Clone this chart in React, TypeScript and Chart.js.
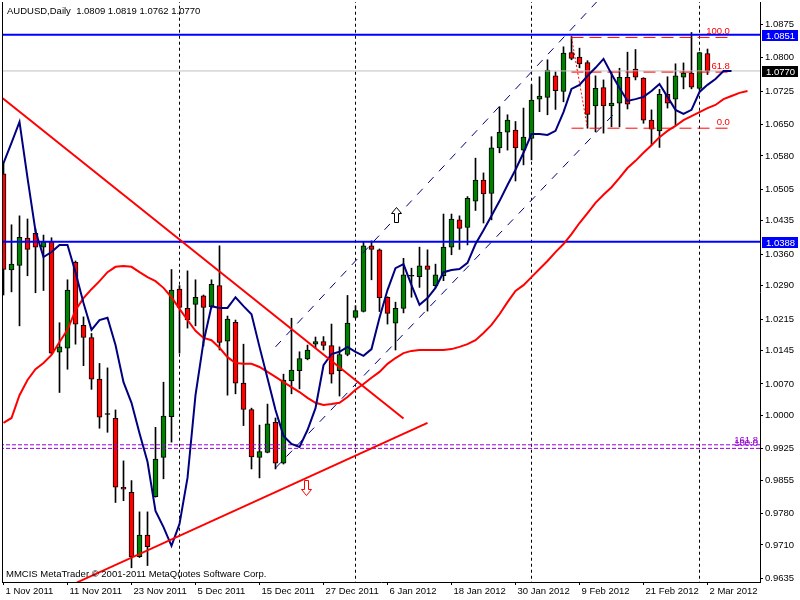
import React, { useEffect, useRef } from "react";
import { Chart, registerables } from "chart.js";

Chart.register(...registerables);

const FONT_FAMILY = '"Liberation Sans", Arial, sans-serif';
const FONT_SIZE = 9.5;

// ---------- DATA ----------
const symbolName = "AUDUSD";
const periodName = "Daily";
const copyrightText = "MMCIS MetaTrader \u00A9 2001-2011 MetaQuotes Software Corp.";

const xTickBars = [0, 8, 16, 24, 32, 40, 48, 56, 64, 72, 80, 88];
const xTickLabels = [
  "1 Nov 2011", "11 Nov 2011", "23 Nov 2011", "5 Dec 2011", "15 Dec 2011", "27 Dec 2011",
  "6 Jan 2012", "18 Jan 2012", "30 Jan 2012", "9 Feb 2012", "21 Feb 2012", "2 Mar 2012",
];
const yTickValues = [
  1.0875, 1.08, 1.0725, 1.065, 1.058, 1.0505, 1.0435, 1.036, 1.029, 1.0215,
  1.0145, 1.007, 1.0, 0.9925, 0.9855, 0.978, 0.971, 0.9635,
];

const opens = [
  1.0540, 1.0325, 1.0335, 1.0396, 1.0407, 1.0376, 1.0388, 1.0141, 1.0150, 1.0342,
  1.0201, 1.0174, 1.0081, 1.0004, 0.9993, 0.9839, 0.9828, 0.9684, 0.9732, 0.9818,
  0.9906, 0.9997, 1.0282, 1.0239, 1.0248, 1.0267, 1.0243, 1.0290, 1.0166, 1.0208,
  1.0072, 1.0013, 0.9906, 0.9917, 0.9984, 0.9893, 1.0077, 1.0100, 1.0126, 1.0159,
  1.0165, 1.0156, 1.0100, 1.0136, 1.0219, 1.0232, 1.0379, 1.0370, 1.0264, 1.0206,
  1.0239, 1.0313, 1.0310, 1.0334, 1.0290, 1.0312, 1.0376, 1.0437, 1.0420, 1.0479,
  1.0526, 1.0496, 1.0598, 1.0633, 1.0638, 1.0593, 1.0619, 1.0707, 1.0711, 1.0759,
  1.0724, 1.0811, 1.0801, 1.0789, 1.0692, 1.0733, 1.0692, 1.0698, 1.0756, 1.0774,
  1.0754, 1.0660, 1.0636, 1.0718, 1.0707, 1.0756, 1.0765, 1.0731, 1.0809,
];
const highs = [
  1.0564, 1.0426, 1.0446, 1.0439, 1.0417, 1.0403, 1.0397, 1.0207, 1.0303, 1.0345,
  1.0220, 1.0183, 1.0116, 1.0106, 1.0012, 0.9898, 0.9854, 0.9784, 0.9784, 0.9973,
  1.0074, 1.0326, 1.0290, 1.0323, 1.0303, 1.0269, 1.0303, 1.0379, 1.0222, 1.0213,
  1.0159, 1.0016, 0.9978, 1.0025, 0.9994, 1.0092, 1.0217, 1.0142, 1.0157, 1.0175,
  1.0176, 1.0204, 1.0153, 1.0268, 1.0245, 1.0388, 1.0390, 1.0372, 1.0265, 1.0253,
  1.0351, 1.0329, 1.0376, 1.0370, 1.0338, 1.0450, 1.0450, 1.0446, 1.0489, 1.0575,
  1.0542, 1.0623, 1.0690, 1.0672, 1.0657, 1.0687, 1.0739, 1.0757, 1.0795, 1.0768,
  1.0824, 1.0847, 1.0821, 1.0793, 1.0759, 1.0750, 1.0768, 1.0776, 1.0812, 1.0818,
  1.0755, 1.0683, 1.0729, 1.0757, 1.0786, 1.0788, 1.0856, 1.0812, 1.0819,
];
const lows = [
  1.0269, 1.0276, 1.0200, 1.0312, 1.0274, 1.0279, 1.0137, 1.0051, 1.0103, 1.0159,
  1.0111, 1.0058, 0.9971, 0.9962, 0.9805, 0.9809, 0.9659, 0.9682, 0.9664, 0.9817,
  0.9858, 0.9940, 1.0139, 1.0195, 1.0200, 1.0155, 1.0240, 1.0146, 1.0045, 1.0048,
  0.9977, 0.9880, 0.9860, 0.9916, 0.9880, 0.9891, 1.0048, 1.0059, 1.0124, 1.0151,
  1.0146, 1.0072, 1.0043, 1.0133, 1.0217, 1.0231, 1.0303, 1.0232, 1.0204, 1.0146,
  1.0229, 1.0264, 1.0286, 1.0233, 1.0286, 1.0301, 1.0359, 1.0371, 1.0381, 1.0458,
  1.0430, 1.0437, 1.0587, 1.0593, 1.0524, 1.0560, 1.0571, 1.0679, 1.0672, 1.0684,
  1.0701, 1.0795, 1.0777, 1.0642, 1.0634, 1.0631, 1.0645, 1.0645, 1.0685, 1.0750,
  1.0653, 1.0604, 1.0599, 1.0687, 1.0649, 1.0730, 1.0730, 1.0727, 1.0762,
];
const closes = [
  1.0326, 1.0338, 1.0398, 1.0371, 1.0376, 1.0388, 1.0139, 1.0153, 1.0280, 1.0204,
  1.0174, 1.0081, 0.9996, 1.0002, 0.9839, 0.9835, 0.9684, 0.9732, 0.9706, 0.9902,
  0.9998, 1.0280, 1.0241, 1.0213, 1.0264, 1.0241, 1.0293, 1.0163, 1.0215, 1.0072,
  1.0013, 0.9907, 0.9919, 0.9981, 0.9893, 1.0079, 1.0101, 1.0127, 1.0146, 1.0165,
  1.0156, 1.0092, 1.0136, 1.0206, 1.0234, 1.0379, 1.0371, 1.0263, 1.0228, 1.0239,
  1.0314, 1.0311, 1.0334, 1.0326, 1.0314, 1.0376, 1.0439, 1.0418, 1.0485, 1.0526,
  1.0495, 1.0598, 1.0633, 1.0660, 1.0598, 1.0622, 1.0705, 1.0714, 1.0772, 1.0726,
  1.0810, 1.0798, 1.0786, 1.0673, 1.0731, 1.0692, 1.0698, 1.0756, 1.0696, 1.0756,
  1.0660, 1.0640, 1.0718, 1.0698, 1.0759, 1.0765, 1.0734, 1.0811, 1.0770,
];

// shifted moving averages as drawn (one value per bar position)
const fastMA = [
  1.0564, 1.0609, 1.0656, 1.0531, 1.0412, 1.0354, 1.0365, 1.0381, 1.0381, 1.0320,
  1.0251, 1.0191, 1.0213, 1.0218, 1.0157, 1.0074, 1.0028, 0.9960, 0.9896, 0.9786,
  0.9750, 0.9708, 0.9757, 0.9860, 1.0045, 1.0164, 1.0244, 1.0240, 1.0240, 1.0264,
  1.0244, 1.0226, 1.0153, 1.0083, 1.0012, 0.9954, 0.9936, 0.9929, 0.9967, 1.0016,
  1.0112, 1.0137, 1.0142, 1.0153, 1.0142, 1.0133, 1.0148, 1.0218, 1.0280, 1.0329,
  1.0338, 1.0291, 1.0247, 1.0262, 1.0285, 1.0320, 1.0325, 1.0327, 1.0341, 1.0383,
  1.0414, 1.0446, 1.0479, 1.0515, 1.0549, 1.0587, 1.0629, 1.0629, 1.0627, 1.0636,
  1.0678, 1.0730, 1.0739, 1.0759, 1.0777, 1.0797, 1.0763, 1.0732, 1.0703, 1.0707,
  1.0712, 1.0725, 1.0741, 1.0712, 1.0683, 1.0674, 1.0683, 1.0723, 1.0739, 1.0752,
  1.0770, 1.0770,
];
const slowMA = [
  0.9983, 0.9994, 1.0045, 1.0079, 1.0103, 1.0117, 1.0135, 1.0164, 1.0191, 1.0235,
  1.0262, 1.0282, 1.0300, 1.0320, 1.0332, 1.0334, 1.0332, 1.0320, 1.0309, 1.0300,
  1.0285, 1.0264, 1.0238, 1.0213, 1.0189, 1.0173, 1.0168, 1.0151, 1.0130, 1.0117,
  1.0115, 1.0115, 1.0108, 1.0097, 1.0086, 1.0074, 1.0063, 1.0052, 1.0039, 1.0028,
  1.0023, 1.0025, 1.0028, 1.0041, 1.0057, 1.0070, 1.0084, 1.0097, 1.0115, 1.0128,
  1.0139, 1.0144, 1.0146, 1.0146, 1.0146, 1.0146, 1.0148, 1.0153, 1.0159, 1.0168,
  1.0184, 1.0202, 1.0226, 1.0253, 1.0278, 1.0291, 1.0309, 1.0327, 1.0345, 1.0365,
  1.0383, 1.0405, 1.0430, 1.0452, 1.0475, 1.0493, 1.0510, 1.0531, 1.0553, 1.0569,
  1.0587, 1.0604, 1.0622, 1.0636, 1.0647, 1.0660, 1.0669, 1.0678, 1.0687, 1.0694,
  1.0707, 1.0714, 1.0721, 1.0725,
];

const monthSeparatorBars = [22, 44, 66, 87];
const blueLevels = [1.0851, 1.0388];
const bidPrice = 1.077;

const downTrendBars = [-0.1, 50];
const downTrendPrices = [1.0709, 0.9993];
const upTrendBars = [9.15, 53];
const upTrendPrices = [0.9626, 0.9983];

const channelUpperBars = [34, 76];
const channelUpperPrices = [1.0153, 1.096];
const channelLowerBars = [34, 76.2];
const channelLowerPrices = [0.9882, 1.0672];

const fiboBars = [71, 73];
const fiboEndBar = 90.8;
const fiboHigh = 1.0845;
const fiboLow = 1.0642;
const fiboLevels = [100.0, 61.8, 0.0];

const expansionPrices = [0.9934, 0.9926];
const expansionLabels = ["161.8", "100.0"];

const arrowBars = [49, 37.75];
const arrowPrices = [1.0466, 0.9855];
const arrowDirections = ["up", "down"];

// ---------- SCALE RANGE ----------
const X_MIN = -0.1875;
const X_MAX = 94.5625;
const Y_MIN = 0.96272;
const Y_MAX = 1.09242;

const overlayPlugin = {
  id: "mtOverlay",
  beforeDraw(chart: any) {
    const ctx = chart.ctx;
    ctx.save();
    ctx.fillStyle = "#ffffff";
    ctx.fillRect(0, 0, chart.width, chart.height);
    ctx.restore();
  },
  afterDraw(chart: any) {
    const { ctx, chartArea: a, scales } = chart;
    const xs = scales.x;
    const ys = scales.y;
    ctx.save();
    // left frame line
    ctx.strokeStyle = "#000";
    ctx.lineWidth = 1;
    ctx.beginPath();
    ctx.moveTo(a.left + 0.5, a.top);
    ctx.lineTo(a.left + 0.5, a.bottom);
    ctx.stroke();

    ctx.font = `${FONT_SIZE}px ${FONT_FAMILY}`;
    ctx.textBaseline = "alphabetic";
    ctx.textAlign = "left";
    ctx.fillStyle = "#000";
    const last = opens.length - 1;
    ctx.fillText(
      `${symbolName},${periodName}  ${opens[last].toFixed(4)} ${highs[last].toFixed(4)} ${lows[last].toFixed(4)} ${closes[last].toFixed(4)}`,
      a.left + 5,
      a.top + 12
    );
    ctx.fillText(copyrightText, a.left + 4, a.bottom - 5);

    // fibo labels
    ctx.fillStyle = "#FF0000";
    ctx.textAlign = "right";
    const fx = xs.getPixelForValue(fiboEndBar);
    fiboLevels.forEach((lv) => {
      const p = fiboLow + ((fiboHigh - fiboLow) * lv) / 100;
      ctx.fillText(lv.toFixed(1), fx, ys.getPixelForValue(p) - 3);
    });

    // expansion labels
    ctx.fillStyle = "#9400D3";
    expansionPrices.forEach((p, i) => {
      ctx.fillText(expansionLabels[i], a.right - 2, ys.getPixelForValue(p) - 2);
    });

    // price markers
    const markers = [
      { p: blueLevels[0], bg: "#0000FF" },
      { p: blueLevels[1], bg: "#0000FF" },
      { p: bidPrice, bg: "#000000" },
    ];
    ctx.textAlign = "left";
    ctx.textBaseline = "middle";
    markers.forEach((m) => {
      const y = Math.round(ys.getPixelForValue(m.p));
      ctx.fillStyle = m.bg;
      ctx.fillRect(a.right + 2, y - 5, 36, 11);
      ctx.fillStyle = "#ffffff";
      ctx.fillText(m.p.toFixed(4), a.right + 6, y + 1);
    });

    // arrows
    arrowBars.forEach((b, i) => {
      const cx = Math.round(xs.getPixelForValue(b)) + 0.5;
      const ty = Math.round(ys.getPixelForValue(arrowPrices[i])) + 0.5;
      const up = arrowDirections[i] === "up";
      const s = up ? 1 : -1;
      const tipY = up ? ty : ty + 15;
      ctx.beginPath();
      ctx.moveTo(cx, tipY);
      ctx.lineTo(cx + 5, tipY + s * 6);
      ctx.lineTo(cx + 2, tipY + s * 6);
      ctx.lineTo(cx + 2, tipY + s * 15);
      ctx.lineTo(cx - 2, tipY + s * 15);
      ctx.lineTo(cx - 2, tipY + s * 6);
      ctx.lineTo(cx - 5, tipY + s * 6);
      ctx.closePath();
      ctx.fillStyle = "#ffffff";
      ctx.fill();
      ctx.strokeStyle = up ? "#000000" : "#FF0000";
      ctx.lineWidth = 1;
      ctx.stroke();
    });
    ctx.restore();
  },
};

export default function App() {
  const ref = useRef<HTMLCanvasElement>(null);

  useEffect(() => {
    const canvas = ref.current;
    if (!canvas) return;
    const bars = opens.map((_, i) => i);
    const bodyColors = bars.map((i) => {
      const d = closes[i] - opens[i];
      if (Math.abs(d) <= 0.00025) return "#000000";
      return d > 0 ? "#008000" : "#FF0000";
    });
    const seg = (xsArr: number[], ysArr: number[]) => xsArr.map((x, i) => ({ x, y: ysArr[i] }));
    const hline = (p: number) => [
      { x: X_MIN - 1, y: p },
      { x: X_MAX + 1, y: p },
    ];
    const vline = (b: number) => [
      { x: b, y: Y_MIN - 0.01 },
      { x: b, y: Y_MAX + 0.01 },
    ];
    const lineDs = (data: any[], color: string, width: number, dash: number[], order: number) => ({
      type: "line",
      data,
      borderColor: color,
      borderWidth: width,
      borderDash: dash,
      pointRadius: 0,
      fill: false,
      tension: 0,
      clip: 0,
      order,
    });

    const fiboLevelData = fiboLevels.map((lv) => {
      const p = fiboLow + ((fiboHigh - fiboLow) * lv) / 100;
      return [
        { x: fiboBars[0], y: p },
        { x: fiboEndBar, y: p },
      ];
    });

    const datasets: any[] = [
      ...monthSeparatorBars.map((b) => lineDs(vline(b), "#000000", 1, [3, 3], 20)),
      {
        type: "bar",
        data: bars.map((i) => ({ x: i, y: [lows[i], highs[i]] })),
        backgroundColor: "#000000",
        borderWidth: 0,
        barThickness: 1,
        grouped: false,
        order: 12,
      },
      {
        type: "bar",
        data: bars.map((i) => ({ x: i, y: [opens[i], closes[i]] })),
        backgroundColor: bodyColors,
        borderColor: "#000000",
        borderWidth: 1,
        borderSkipped: false,
        barThickness: 5,
        grouped: false,
        order: 11,
      },
      lineDs(hline(bidPrice), "#C0C0C0", 1, [], 10),
      ...expansionPrices.map((p) => lineDs(hline(p), "#9400D3", 1, [4, 2], 9)),
      ...blueLevels.map((p) => lineDs(hline(p), "#0000FF", 2, [], 8)),
      lineDs(seg(channelUpperBars, channelUpperPrices), "#000080", 1, [8, 8], 7),
      lineDs(seg(channelLowerBars, channelLowerPrices), "#000080", 1, [8, 8], 7),
      ...fiboLevelData.map((d) => lineDs(d, "#FF0000", 1, [12, 6], 6)),
      lineDs(seg(fiboBars, [fiboHigh, fiboLow]), "#FF0000", 1, [2, 2], 6),
      lineDs(slowMA.map((v, i) => ({ x: i, y: v })), "#FF0000", 2, [], 5),
      lineDs(fastMA.map((v, i) => ({ x: i, y: v })), "#000080", 2, [], 4),
      lineDs(seg(downTrendBars, downTrendPrices), "#FF0000", 2, [], 3),
      lineDs(seg(upTrendBars, upTrendPrices), "#FF0000", 2, [], 3),
    ];

    const tickFont = { family: FONT_FAMILY, size: FONT_SIZE };

    const chart = new Chart(canvas, {
      type: "bar",
      data: { datasets },
      plugins: [overlayPlugin],
      options: {
        responsive: false,
        animation: false,
        devicePixelRatio: 1,
        events: [],
        layout: { padding: { left: 2, top: 2, right: 0, bottom: 0 } },
        plugins: { legend: { display: false }, tooltip: { enabled: false } },
        scales: {
          x: {
            type: "linear",
            position: "bottom",
            offset: false,
            min: X_MIN,
            max: X_MAX,
            afterBuildTicks: (s: any) => {
              s.ticks = xTickBars.map((v) => ({ value: v }));
            },
            afterFit: (s: any) => {
              s.height = 18;
              s.paddingLeft = 0;
              s.paddingRight = 0;
            },
            ticks: {
              autoSkip: false,
              maxRotation: 0,
              minRotation: 0,
              align: "start",
              labelOffset: 2,
              padding: 1,
              color: "#000",
              font: tickFont,
              callback: (v: any) => xTickLabels[xTickBars.indexOf(Number(v))] ?? "",
            },
            grid: { offset: false, drawOnChartArea: false, drawTicks: true, tickLength: 3, color: "#000" },
            border: { display: true, color: "#000", width: 1 },
          },
          y: {
            type: "linear",
            position: "right",
            min: Y_MIN,
            max: Y_MAX,
            afterBuildTicks: (s: any) => {
              s.ticks = yTickValues.map((v) => ({ value: v }));
            },
            afterFit: (s: any) => {
              s.width = 40;
              s.paddingTop = 0;
              s.paddingBottom = 0;
            },
            ticks: {
              autoSkip: false,
              padding: 2,
              color: "#000",
              font: tickFont,
              callback: (v: any) => Number(v).toFixed(4),
            },
            grid: { drawOnChartArea: false, drawTicks: true, tickLength: 3, color: "#000" },
            border: { display: true, color: "#000", width: 1 },
          },
        },
      } as any,
    });
    return () => chart.destroy();
  }, []);

  return (
    <div style={{ position: "fixed", left: 0, top: 0, width: 800, height: 600, background: "#fff" }}>
      <canvas ref={ref} width={800} height={600} style={{ width: 800, height: 600, display: "block" }} />
    </div>
  );
}
